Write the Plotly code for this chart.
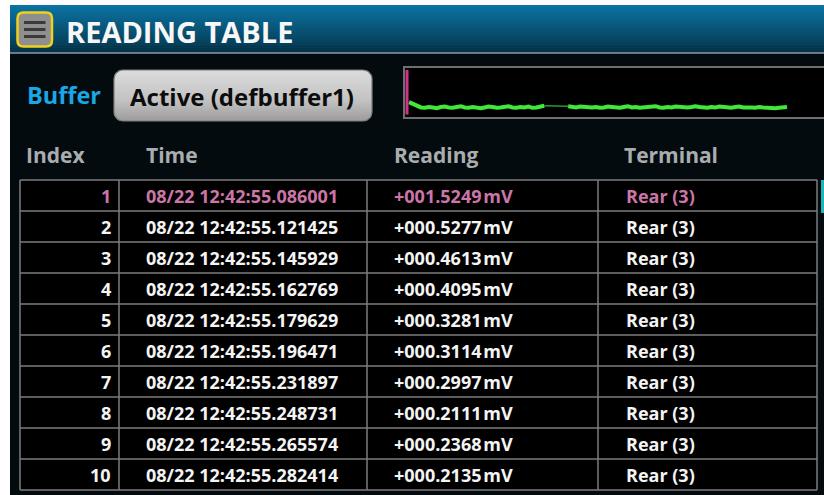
import numpy as np
import plotly.graph_objects as go

W, H = 824, 495

# ---------------- data ----------------
title_text = "READING TABLE"
buffer_label = "Buffer"
buffer_name = "Active (defbuffer1)"
headers = ["Index", "Time", "Reading", "Terminal"]
indices = [1, 2, 3, 4, 5, 6, 7, 8, 9, 10]
times = ["08/22 12:42:55.086001", "08/22 12:42:55.121425", "08/22 12:42:55.145929",
         "08/22 12:42:55.162769", "08/22 12:42:55.179629", "08/22 12:42:55.196471",
         "08/22 12:42:55.231897", "08/22 12:42:55.248731", "08/22 12:42:55.265574",
         "08/22 12:42:55.282414"]
readings = ["+001.5249", "+000.5277", "+000.4613", "+000.4095", "+000.3281",
            "+000.3114", "+000.2997", "+000.2111", "+000.2368", "+000.2135"]
reading_unit = "mV"
terminals = ["Rear (3)"] * 10
# mini trend (mV), gap = None
trend_values = [0.34, 0.29, 0.24, 0.21, 0.20, 0.22, 0.21, 0.19, 0.22, 0.23,
                0.21, 0.20, 0.22, 0.24, 0.21, 0.20, 0.22, 0.21, 0.19, 0.21,
                0.23, 0.22, 0.20, 0.21, 0.22, 0.24, 0.21, 0.20, 0.22, 0.21,
                0.23, 0.20, 0.21, 0.24, 0.25, None, None, None, None, None,
                0.24, 0.22, 0.21, 0.23, 0.22, 0.20, 0.21, 0.22, 0.20, 0.21,
                0.23, 0.22, 0.21, 0.20, 0.22, 0.24, 0.21, 0.22, 0.20, 0.21,
                0.23, 0.22, 0.24, 0.21, 0.20, 0.22, 0.21, 0.23, 0.22, 0.20,
                0.21, 0.22, 0.24, 0.22, 0.21, 0.20, 0.22, 0.21, 0.23, 0.22,
                0.21, 0.20, 0.22, 0.23, 0.21, 0.22, 0.21, 0.20, 0.22, 0.21,
                0.20, 0.21, 0.19, 0.20, 0.21, 0.22]

# ---------------- style / layout constants ----------------
FONT = "Open Sans"
BG = "#040b0f"
GRID = "#7c7c7c"
PINK = "#cc76a8"
WHITE = "#f4f4f4"
HEAD = "#a9adb0"

row_top, row_h = 180, 31
col_lines = [20, 119, 367, 598, 817]
tbl_right = 817

shapes = []
annotations = []

def rect(x0, y0, x1, y1, fill, line=None, lw=0):
    shapes.append(dict(type="rect", xref="x", yref="y", x0=x0, y0=y0, x1=x1, y1=y1,
                       fillcolor=fill, line=dict(width=lw, color=line or fill), layer="below"))

def seg(x0, y0, x1, y1, color, w):
    shapes.append(dict(type="line", xref="x", yref="y", x0=x0, y0=y0, x1=x1, y1=y1,
                       line=dict(color=color, width=w), layer="above"))

def text(x, y, s, size, color, anchor="left"):
    annotations.append(dict(x=x, y=y, xref="x", yref="y", text=s, showarrow=False,
                            xanchor=anchor, yanchor="middle",
                            font=dict(family=FONT, size=size, color=color, weight=700)))

def lerp(c0, c1, t):
    a = np.array([int(c0[i:i+2], 16) for i in (1, 3, 5)])
    b = np.array([int(c1[i:i+2], 16) for i in (1, 3, 5)])
    c = (a + (b - a) * t).round().astype(int)
    return "#%02x%02x%02x" % tuple(c)

# screen background
rect(10, 5, W + 2, H + 2, BG)
# title bar gradient
n = 24
y0, y1 = 5, 52.5
for i in range(n):
    ya = y0 + (y1 - y0) * i / n
    yb = y0 + (y1 - y0) * (i + 1) / n + 0.3
    rect(10, ya, W + 2, yb, lerp("#0b73a3", "#05364d", i / (n - 1)))
seg(10, 53, W + 2, 53, "#8e9aa1", 1.5)

# menu icon
def rr_path(x0, y0, x1, y1, r):
    return (f"M{x0+r},{y0} L{x1-r},{y0} Q{x1},{y0} {x1},{y0+r} L{x1},{y1-r} "
            f"Q{x1},{y1} {x1-r},{y1} L{x0+r},{y1} Q{x0},{y1} {x0},{y1-r} "
            f"L{x0},{y0+r} Q{x0},{y0} {x0+r},{y0} Z")

shapes.append(dict(type="path", xref="x", yref="y", path=rr_path(17.5, 12.5, 52, 46.5, 6),
                   fillcolor="#8f8f8f", line=dict(color="#f2cf1a", width=2.5), layer="above"))
for yy in (22.5, 29.5, 36.5):
    seg(24, yy, 45.5, yy, "#3a3a3a", 3)

text(64, 31, title_text, 29, "#f7f7f7")

# Buffer label + button
text(25, 95, buffer_label, 23.5, "#1aa7e4")
bx0, by0, bx1, by1, br = 114, 70, 372, 121, 9
pts = []
for cx, cy, a0 in ((bx1 - br, by0 + br, -90), (bx1 - br, by1 - br, 0),
                   (bx0 + br, by1 - br, 90), (bx0 + br, by0 + br, 180)):
    for a in np.linspace(a0, a0 + 90, 8):
        pts.append((cx + br * np.cos(np.radians(a)), cy + br * np.sin(np.radians(a))))
pts.append(pts[0])
bxs, bys = zip(*pts)
button_trace = go.Scatter(x=bxs, y=bys, mode="lines", fill="toself",
                          line=dict(color="#7f7f7f", width=1.2),
                          fillgradient=dict(type="vertical", start=by0, stop=by1,
                                            colorscale=[[0, "#dcdcdc"], [0.6, "#c2c2c2"], [1, "#9c9c9c"]]),
                          hoverinfo="skip", showlegend=False, xaxis="x", yaxis="y")
text((bx0 + bx1) / 2 - 1, 96, buffer_name, 24, "#0c0c0c", anchor="center")

# mini graph box
rect(404, 67, W + 4, 118, "#000000", "#6f6f6f", 2)
seg(407, 70, 407, 114.5, "#d2328e", 3)

# headers
hx = [24, 144, 392, 622]
for x, h in zip(hx, headers):
    text(x, 155, h, 21, HEAD)

# table
rect(col_lines[0], row_top, tbl_right, row_top + row_h * len(indices), "#000000")
for k in range(len(indices) + 1):
    seg(col_lines[0], row_top + k * row_h, tbl_right, row_top + k * row_h, GRID, 1.5)
for x in col_lines:
    seg(x, row_top, x, row_top + row_h * len(indices), GRID, 1.5)

for k, (idx, t, r, term) in enumerate(zip(indices, times, readings, terminals)):
    yc = row_top + k * row_h + row_h / 2 + 0.5
    col = PINK if k == 0 else WHITE
    text(113, yc, str(idx), 18, col, anchor="right")
    text(144, yc, t, 18, col)
    text(392, yc, r + "\u200a" + reading_unit, 18, col)
    text(624, yc, term, 18, col)

# scrollbar
rect(821, 180, W + 2, 213, "#19b6c0")

# ---------------- trend traces ----------------
px0, pdx = 409, 378 / (len(trend_values) - 1)
tx = list(range(len(trend_values)))
main = go.Scatter(x=tx, y=trend_values, mode="lines", connectgaps=False,
                  line=dict(color="#41e83a", width=4), hoverinfo="skip",
                  showlegend=False, xaxis="x2", yaxis="y2")
nT = len(trend_values)
gi0 = max(i for i in range(nT - 1) if trend_values[i] is not None and trend_values[i + 1] is None)
gi1 = min(i for i in range(1, nT) if trend_values[i] is not None and trend_values[i - 1] is None)
gap = go.Scatter(x=[tx[gi0], tx[gi1]], y=[trend_values[gi0], trend_values[gi1]], mode="lines",
                 line=dict(color="#2a9a2a", width=1.5), hoverinfo="skip",
                 showlegend=False, xaxis="x2", yaxis="y2")

dom_x0, dom_x1 = 405, 823
dom_y0, dom_y1 = 69, 116
fig = go.Figure([button_trace, gap, main])
fig.update_layout(
    width=W, height=H, margin=dict(l=0, r=0, t=0, b=0),
    paper_bgcolor="#ffffff", plot_bgcolor="rgba(0,0,0,0)",
    xaxis=dict(range=[0, W], visible=False, fixedrange=True, domain=[0, 1]),
    yaxis=dict(range=[H, 0], visible=False, fixedrange=True, domain=[0, 1]),
    xaxis2=dict(range=[(dom_x0 - px0) / pdx, (dom_x1 - px0) / pdx], visible=False,
                domain=[dom_x0 / W, dom_x1 / W], anchor="y2", fixedrange=True),
    yaxis2=dict(range=[0, 1.15], visible=False,
                domain=[1 - dom_y1 / H, 1 - dom_y0 / H], anchor="x2", fixedrange=True),
    shapes=shapes, annotations=annotations, showlegend=False,
)
fig.write_html("out.html", config={"displayModeBar": False},
               post_script="document.body.style.margin='0';document.body.style.overflow='hidden';")
